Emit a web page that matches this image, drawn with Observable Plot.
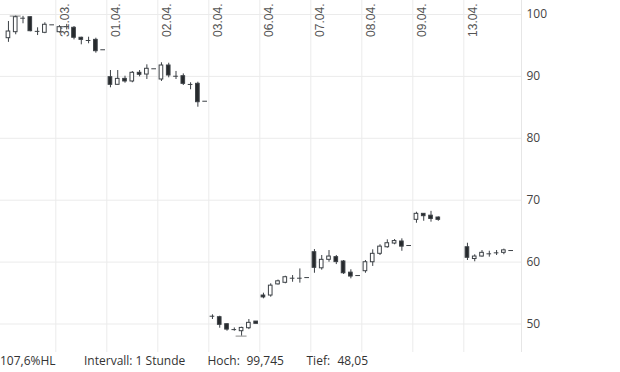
<!DOCTYPE html>
<html><head><meta charset="utf-8">
<script src="https://cdn.jsdelivr.net/npm/d3@7"></script>
<script src="https://cdn.jsdelivr.net/npm/@observablehq/plot@0.6"></script>
<style>
body{margin:0;background:#fff;}
#chart{position:relative;width:620px;height:372px;font-family:"Open Sans",sans-serif;overflow:hidden;}
.cap{position:absolute;top:351px;font-size:12px;color:#333;line-height:20px;white-space:pre;}
</style></head><body><div id="chart"></div>
<script>
// day labels (gridline at start of each day, 7 hourly slots per day)
const dayLabels = ["30.03.","31.03.","01.04.","02.04.","03.04.","06.04.","07.04.","08.04.","09.04.","13.04."];
const slotsPerDay = 7;
const yTicks = [50, 60, 70, 80, 90, 100];

// hourly candles: slot index, open, high, low, close
const slots = [
  0,1,2,3,4,5,6,
  7,8,9,10,11,12,13,
  14,15,16,17,18,19,20,
  21,22,23,24,25,26,27,
  28,29,30,31,32,33,34,
  35,36,37,38,39,40,41,
  42,43,44,45,46,47,48,
  49,50,51,52,53,54,55,
  56,57,58,59,
  63,64,65,66,67,68,69
];
const opens = [
  96.17,97.14,99.42,99.56,97.30,97.04,98.33,
  97.14,98.08,97.85,96.24,95.82,95.90,94.30,
  89.87,88.64,89.60,89.18,90.58,90.30,91.23,
  89.50,91.76,90.05,90.03,88.72,88.80,85.99,
  51.28,51.10,49.97,49.12,48.84,49.32,50.40,
  54.60,54.60,56.40,56.66,57.42,57.42,57.50,
  61.60,59.00,60.37,60.80,60.10,58.30,57.83,
  58.53,59.98,61.34,62.40,63.00,63.33,62.68,
  66.83,67.80,67.50,67.20,
  62.40,60.50,60.90,61.36,61.55,61.50,61.87
];
const highs = [
  98.87,99.745,99.70,99.62,97.85,98.66,98.33,
  98.20,98.40,98.06,96.33,96.33,96.17,94.30,
  90.95,90.95,90.03,90.79,90.95,91.87,91.23,
  92.20,92.13,90.80,90.40,88.97,89.06,85.99,
  51.49,51.26,50.03,49.37,49.48,50.73,50.40,
  54.98,56.50,57.10,57.72,57.83,58.90,57.50,
  62.03,61.07,61.87,61.07,60.26,58.76,57.83,
  60.26,61.99,62.80,63.60,63.65,63.76,62.68,
  68.06,67.80,68.20,67.31,
  63.05,61.18,61.87,61.76,61.87,62.10,61.87
];
const lows = [
  95.50,96.72,98.50,97.20,96.60,96.90,98.33,
  97.00,97.50,95.90,95.10,95.27,93.75,94.30,
  88.16,88.60,88.90,88.97,89.93,89.50,91.23,
  89.18,89.77,89.50,88.53,87.84,85.02,85.99,
  50.73,49.32,48.84,48.84,48.05,49.10,50.03,
  54.07,54.33,56.30,56.50,56.75,56.60,57.50,
  58.20,58.70,59.98,59.60,58.00,57.30,57.83,
  58.20,59.30,61.07,62.25,62.80,61.75,62.68,
  66.28,66.60,66.45,66.60,
  60.26,60.05,60.80,60.80,61.07,61.20,61.87
];
const closes = [
  97.25,99.56,99.38,97.30,97.25,98.34,98.33,
  97.95,98.04,96.24,95.90,95.78,94.07,94.30,
  88.64,89.60,89.18,90.58,90.26,91.23,91.23,
  91.76,90.15,90.00,88.80,88.68,85.83,85.99,
  51.24,49.87,49.10,49.08,49.37,50.19,50.03,
  54.30,56.20,56.90,57.56,57.38,57.38,57.50,
  59.08,60.37,60.90,60.00,58.20,57.67,57.83,
  59.98,61.34,62.50,63.05,63.40,62.50,62.68,
  67.80,67.42,66.97,66.83,
  60.70,60.90,61.50,61.32,61.45,61.90,61.87
];
// period high / low markers
const hiSlot = 1, hiValue = 99.745;
const loSlot = 32, loValue = 48.05;
const captionParts = [
  ["107,6%HL", 0], ["Intervall: 1 Stunde", 84], ["Hoch:", 207.5], ["99,745", 246.5], ["Tief:", 306.5], ["48,05", 337.5]
];

const candles = slots.map((s, i) => ({s, o: opens[i], h: highs[i], l: lows[i], c: closes[i]}));
const bodies = candles.filter(d => Math.abs(d.c - d.o) >= 0.1);
const flats = candles.filter(d => Math.abs(d.c - d.o) < 0.1);
const days = dayLabels.map((label, i) => ({label, start: i * slotsPerDay - 0.5})).slice(1);
const xDomain = [-1.09, 70.42];
const halfW = 0.25;

const plot = Plot.plot({
  width: 620,
  height: 352,
  marginLeft: 0,
  marginRight: 99,
  marginTop: 0,
  marginBottom: 0,
  style: {fontFamily: "'Open Sans', sans-serif", fontSize: "12px", color: "#444", background: "#fff", overflow: "visible"},
  x: {type: "linear", domain: xDomain, axis: null},
  y: {type: "linear", domain: [45.4, 102.26], axis: null},
  marks: [
    Plot.ruleY(yTicks, {stroke: "#ebebeb", strokeWidth: 1}),
    Plot.ruleX(days, {x: "start", stroke: "#ebebeb", strokeWidth: 1}),
    Plot.ruleX([xDomain[1]], {stroke: "#e6e6e6", strokeWidth: 1}),
    Plot.axisY({anchor: "right", ticks: yTicks, tickSize: 0, tickPadding: 5, fill: "#444", fontSize: 12}),
    Plot.ruleY([{s: hiSlot, v: hiValue}, {s: loSlot, v: loValue}], {y: "v", x1: d => d.s - 0.75, x2: d => d.s + 0.75, stroke: "#8a8a8a", strokeWidth: 1}),
    Plot.ruleX(candles, {x: "s", y1: "l", y2: "h", stroke: "#3c4146", strokeWidth: 1}),
    Plot.rect(bodies, {
      x1: d => d.s - halfW, x2: d => d.s + halfW,
      y1: "o", y2: "c",
      fill: d => d.c > d.o ? "#ffffff" : "#26292c",
      stroke: "#3c4146", strokeWidth: 1
    }),
    Plot.ruleY(flats, {y: d => (d.o + d.c) / 2, x1: d => d.s - halfW - 0.07, x2: d => d.s + halfW + 0.07, stroke: "#3c4146", strokeWidth: 1}),
    Plot.text(days, {x: "start", frameAnchor: "top", text: "label", rotate: -90, textAnchor: "end", dx: 5, dy: 3, fontSize: 12, fontFamily: "'Liberation Sans', Arial, sans-serif", fill: "#555"})
  ]
});
const chart = document.getElementById("chart");
chart.appendChild(plot);
for (const [t, x] of captionParts) {
  const s = document.createElement("span");
  s.className = "cap";
  s.style.left = x + "px";
  s.textContent = t;
  chart.appendChild(s);
}
</script>
</body></html>
